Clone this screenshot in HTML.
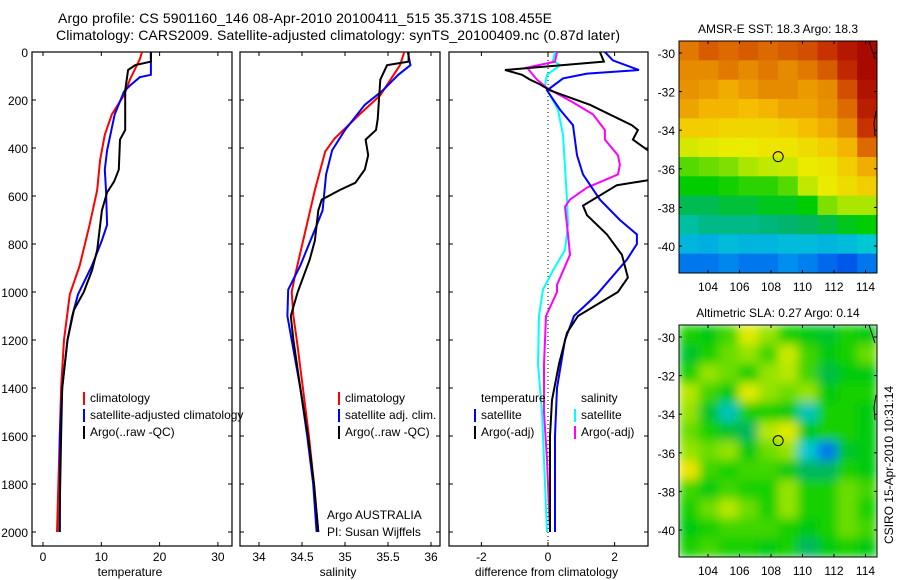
<!DOCTYPE html>
<html><head><meta charset="utf-8"><style>
body{margin:0;background:#fff;}
svg{display:block;font-family:"Liberation Sans",sans-serif;}
text{fill:#000;}
</style></head><body>
<svg id="chart" width="900" height="580" viewBox="0 0 900 580">
<defs>
<filter id="blur" x="0" y="0" width="1" height="1"><feGaussianBlur stdDeviation="5" edgeMode="duplicate"/></filter>
<clipPath id="cp1"><rect x="32" y="52" width="200" height="494"/></clipPath>
<clipPath id="cp2"><rect x="240" y="52" width="200" height="494"/></clipPath>
<clipPath id="cp3"><rect x="449" y="52" width="199" height="494"/></clipPath>
<clipPath id="cm1"><rect x="679" y="41" width="198" height="232"/></clipPath>
<clipPath id="cm2"><rect x="679" y="325" width="198" height="232"/></clipPath>
</defs>
<text x="58" y="23" font-size="14" textLength="494">Argo profile: CS 5901160_146 08-Apr-2010 20100411_515 35.371S 108.455E</text>
<text x="56" y="40" font-size="14" textLength="564">Climatology: CARS2009. Satellite-adjusted climatology: synTS_20100409.nc (0.87d later)</text>
<g id="g"></g>
</svg>
<script>
// ---- depth grid data ----
const tDepth=[0,40,55,75,160,325,365,490,540,585,660,825,910,1000,1075,1200,1400,1600,2000];
const tArgo=[18.5,18.5,15.8,14.6,14.1,14.1,13.2,13.0,12.2,11.0,10.1,9.3,8.4,7.0,5.3,4.2,3.3,3.1,2.8];
const tClimDepth=[0,30,115,180,260,345,450,575,720,890,1010,1200,1400,2000];
const tClim=[17,16.6,14.9,13.9,11.8,10.6,9.8,9.3,8.0,6.3,4.6,3.6,3.1,2.4];
const tSatDepth=[0,95,105,140,165,260,410,490,575,720,785,890,1010,1100,1200,1400,1600,2000];
const tSat=[18.5,18.5,16.6,14.9,13.9,12.3,11.0,10.6,10.8,11.0,10.1,8.4,6.0,5.0,4.2,3.3,2.9,2.9];

const sArgoDepth=[0,40,55,115,280,325,365,430,490,545,575,615,660,785,865,1000,1100,1200,1400,1600,1800,2000];
const sArgo=[35.74,35.74,35.49,35.41,35.38,35.36,35.24,35.27,35.23,35.12,34.94,34.73,34.69,34.65,34.59,34.45,34.37,34.40,34.48,34.57,34.64,34.69];
const sClimDepth=[0,55,180,260,360,415,575,760,930,1000,1100,1200,1400,1600,1800,2000];
const sClim=[35.69,35.64,35.41,35.17,34.88,34.77,34.65,34.53,34.42,34.38,34.40,34.44,34.51,34.58,34.64,34.69];
const sSatDepth=[0,55,95,160,220,325,410,510,660,740,890,990,1100,1200,1400,1600,1800,2000];
const sSat=[35.73,35.76,35.62,35.44,35.23,35.0,34.85,34.78,34.74,34.65,34.48,34.34,34.33,34.38,34.48,34.56,34.63,34.67];

const dTArgoDepth=[0,40,75,95,115,135,160,220,305,325,365,430,530,555,640,680,760,845,940,1000,1100,1170,1300,1450,1600,2000];
const dTArgo=[1.56,1.68,-1.29,-0.78,-0.54,-0.24,0.06,1.26,2.52,2.7,2.55,3.2,3.2,2.07,1.05,1.17,1.77,2.22,2.4,2.1,0.9,0.57,0.33,0.12,0.06,0.06];
const dTSatDepth=[0,35,75,90,110,160,240,305,430,510,615,700,760,800,865,1010,1100,1200,1400,1600,2000];
const dTSat=[1.71,1.95,2.73,1.17,0.45,-0.03,0.36,0.75,0.87,1.05,1.56,2.16,2.67,2.67,2.37,1.47,0.78,0.51,0.27,0.21,0.21];
const dSArgoDepth=[0,40,65,115,150,210,260,325,365,430,470,510,530,565,615,645,760,845,970,1000,1100,1300,1500,1700,2000];
const dSArgo=[0.27,0.21,-0.63,-0.33,-0.03,0.75,1.35,1.71,1.71,2.1,2.16,2.1,1.77,1.17,0.66,0.51,0.6,0.66,0.27,0.27,-0.06,-0.12,-0.12,-0.03,0.06];
const dSSatDepth=[0,35,55,95,140,180,240,345,615,720,825,910,990,1100,1300,1500,1700,2000];
const dSSat=[0.21,0.15,0.36,-0.03,-0.09,0.06,0.3,0.45,0.57,0.6,0.51,0.15,-0.15,-0.27,-0.3,-0.18,-0.12,-0.03];

const depthTicks=[0,200,400,600,800,1000,1200,1400,1600,1800,2000];
const tTicks=[0,10,20,30];
const sTicks=[34,34.5,35,35.5,36];
const dTicks=[-2,0,2];
const lonTicks=[104,106,108,110,112,114];
const latTicks=[-30,-32,-34,-36,-38,-40];

// SST map (colormap fraction), rows north->south, 10 cols
const sstGrid=[
[0.8,0.84,0.82,0.84,0.82,0.84,0.86,0.9,0.95,0.98],
[0.78,0.78,0.8,0.78,0.8,0.78,0.8,0.84,0.92,0.98],
[0.77,0.76,0.74,0.76,0.78,0.78,0.76,0.78,0.86,0.96],
[0.75,0.73,0.73,0.72,0.73,0.75,0.75,0.77,0.82,0.94],
[0.7,0.7,0.69,0.69,0.69,0.7,0.72,0.74,0.78,0.9],
[0.64,0.65,0.66,0.66,0.67,0.67,0.68,0.7,0.73,0.82],
[0.56,0.57,0.58,0.6,0.62,0.63,0.66,0.67,0.7,0.74],
[0.52,0.52,0.53,0.54,0.54,0.56,0.62,0.66,0.68,0.7],
[0.46,0.46,0.48,0.48,0.5,0.5,0.52,0.58,0.6,0.6],
[0.4,0.42,0.42,0.42,0.43,0.44,0.45,0.47,0.5,0.52],
[0.33,0.32,0.34,0.33,0.33,0.34,0.34,0.33,0.34,0.36],
[0.24,0.24,0.26,0.24,0.24,0.27,0.25,0.22,0.2,0.24]];
const slaGrid=[
[0.53,0.51,0.55,0.65,0.59,0.53,0.51,0.49,0.53,0.51],
[0.49,0.53,0.57,0.59,0.55,0.63,0.55,0.51,0.53,0.57],
[0.53,0.59,0.57,0.53,0.59,0.61,0.55,0.47,0.51,0.51],
[0.61,0.55,0.51,0.65,0.59,0.57,0.59,0.51,0.53,0.53],
[0.59,0.49,0.38,0.53,0.53,0.51,0.38,0.53,0.53,0.51],
[0.57,0.53,0.49,0.45,0.61,0.65,0.51,0.53,0.53,0.51],
[0.59,0.57,0.59,0.51,0.57,0.59,0.36,0.24,0.49,0.51],
[0.67,0.55,0.53,0.55,0.55,0.51,0.45,0.45,0.53,0.51],
[0.55,0.51,0.55,0.53,0.53,0.59,0.53,0.53,0.57,0.55],
[0.53,0.57,0.61,0.57,0.53,0.59,0.53,0.53,0.57,0.53],
[0.51,0.53,0.55,0.55,0.55,0.53,0.51,0.53,0.57,0.55],
[0.53,0.55,0.53,0.53,0.51,0.53,0.45,0.51,0.53,0.51]];

const NS='http://www.w3.org/2000/svg';
const G=document.getElementById('g');
function mk(tag,attrs,parent){const e=document.createElementNS(NS,tag);for(const k in attrs)e.setAttribute(k,attrs[k]);(parent||G).appendChild(e);return e;}
const yD=d=>52+d*0.24;
const panels=[
 {x0:32,x1:232,sx:v=>43+5.83*v,ticks:tTicks,lab:'temperature',cp:'cp1',name:'temperature'},
 {x0:240,x1:440,sx:v=>259+86*(v-34),ticks:sTicks,lab:'salinity',cp:'cp2',name:'salinity'},
 {x0:449,x1:648,sx:v=>548+33.3*v,ticks:dTicks,lab:'difference from climatology',cp:'cp3',name:'difference'}];
panels.forEach((p,i)=>{
 const fr=mk('rect',{x:p.x0,y:52,width:p.x1-p.x0,height:494,fill:'none',stroke:'#000','stroke-width':1.2});
 
 
 depthTicks.forEach(d=>{
  mk('line',{x1:p.x0,x2:p.x0+4,y1:yD(d),y2:yD(d),stroke:'#000'});
  mk('line',{x1:p.x1-4,x2:p.x1,y1:yD(d),y2:yD(d),stroke:'#000'});
  if(i===0){const t=mk('text',{x:28,y:yD(d)+5,'font-size':12,'text-anchor':'end'});t.textContent=d;
   
   }
 });
 p.ticks.forEach(v=>{
  const x=p.sx(v);
  mk('line',{x1:x,x2:x,y1:52,y2:56,stroke:'#000'});
  mk('line',{x1:x,x2:x,y1:542,y2:546,stroke:'#000'});
  const t=mk('text',{x:x,y:561,'font-size':12,'text-anchor':'middle'});t.textContent=v;
  
  
 });
 const t=mk('text',{x:(p.x0+p.x1)/2-2,y:576,'font-size':12,'text-anchor':'middle'});t.textContent=p.lab;
 
 
});
const z=mk('line',{x1:548,x2:548,y1:52,y2:546,stroke:'#000','stroke-dasharray':'1,3'});


function line(p,depths,vals,color,name,w){
 const pts=depths.map((d,i)=>p.sx(vals[i]).toFixed(1)+','+yD(d).toFixed(1)).join(' ');
 const e=mk('polyline',{points:pts,fill:'none',stroke:color,'stroke-width':w||2,'clip-path':'url(#'+p.cp+')'});
 
 
}
line(panels[0],tClimDepth,tClim,'#f00','temperature-climatology-line');
line(panels[0],tSatDepth,tSat,'#00f','temperature-satellite-line');
line(panels[0],tDepth,tArgo,'#000','temperature-argo-line');
line(panels[1],sClimDepth,sClim,'#f00','salinity-climatology-line');
line(panels[1],sSatDepth,sSat,'#00f','salinity-satellite-line');
line(panels[1],sArgoDepth,sArgo,'#000','salinity-argo-line');
line(panels[2],dSSatDepth,dSSat,'#0ff','salinity-satellite-diff-line');
line(panels[2],dSArgoDepth,dSArgo,'#f0f','salinity-argo-diff-line');
line(panels[2],dTSatDepth,dTSat,'#00f','temperature-satellite-diff-line');
line(panels[2],dTArgoDepth,dTArgo,'#000','temperature-argo-diff-line');
function leg(x,y,color,label,name){
 if(color){const b=mk('rect',{x:x,y:y-10,width:2,height:13,fill:color});
  
  }
 const t=mk('text',{x:x+7,y:y,'font-size':12});t.textContent=label;
 
 
}
leg(83,402,'#f00','climatology','legend-climatology');
leg(83,419,'#00f','satellite-adjusted climatology','legend-satellite-adjusted');
leg(83,436,'#000','Argo(..raw -QC)','legend-argo');
leg(338,402,'#f00','climatology','legend-sal-climatology');
leg(338,419,'#00f','satellite adj. clim.','legend-sal-satellite');
leg(338,436,'#000','Argo(..raw -QC)','legend-sal-argo');
leg(474,402,null,'temperature','legend-temperature-heading');
leg(474,419,'#00f','satellite','legend-temp-satellite');
leg(474,436,'#000','Argo(-adj)','legend-temp-argo');
leg(574,402,null,'salinity','legend-salinity-heading');
leg(574,419,'#0ff','satellite','legend-sal-sat-diff');
leg(574,436,'#f0f','Argo(-adj)','legend-sal-argo-diff');
leg(320,519,null,'Argo AUSTRALIA','argo-australia-label');
leg(320,536,null,'PI: Susan Wijffels','pi-label');

const STOPS=[[0,0,0,130],[0.15,0,50,230],[0.28,0,150,240],[0.36,0,200,210],[0.44,0,180,110],[0.52,0,205,0],[0.6,170,230,0],[0.66,235,235,0],[0.72,245,190,0],[0.8,225,120,0],[0.9,200,50,0],[1,160,0,0]];
function cmap(v){v=Math.max(0,Math.min(1,v));
 for(let i=1;i<STOPS.length;i++){const a=STOPS[i-1],b=STOPS[i];
  if(v<=b[0]){const f=(v-a[0])/(b[0]-a[0]);
   return 'rgb('+[1,2,3].map(k=>Math.round(a[k]+f*(b[k]-a[k]))).join(',')+')';}}
 return 'rgb(160,0,0)';}
function map(y0,y1,latY,grid,blur,cp,name,title){
 const lonX=l=>708+(l-104)*15.75;
 const x0=679,x1=877;
 const gg=mk('g',{'clip-path':'url(#'+cp+')'});
 
 
 const inner=mk('g',blur?{filter:'url(#blur)'}:{},gg);
 const rows=grid.length,cols=grid[0].length;
 const cw=(x1-x0)/cols,ch=(y1-y0)/rows;
 grid.forEach((row,r)=>row.forEach((v,c)=>{
  const e=mk('rect',{x:x0+c*cw,y:y0+r*ch,width:cw+0.6,height:ch+0.6,fill:cmap(v)},inner);
  
  
 }));
 const fr=mk('rect',{x:x0,y:y0,width:x1-x0,height:y1-y0,fill:'none',stroke:'#000'});
 
 
 lonTicks.forEach(l=>{const x=lonX(l);
  mk('line',{x1:x,x2:x,y1:y0,y2:y0+3,stroke:'#000'});mk('line',{x1:x,x2:x,y1:y1-3,y2:y1,stroke:'#000'});
  const t=mk('text',{x:x,y:y1+18,'font-size':12,'text-anchor':'middle'});t.textContent=l;
  
  });
 latTicks.forEach(l=>{const y=latY(l);
  mk('line',{x1:x0,x2:x0+3,y1:y,y2:y,stroke:'#000'});mk('line',{x1:x1-3,x2:x1,y1:y,y2:y,stroke:'#000'});
  const t=mk('text',{x:675,y:y+5,'font-size':12,'text-anchor':'end'});t.textContent=l;
  
  });
 const c=mk('circle',{cx:lonX(108.455),cy:latY(-35.371),r:5,fill:'none',stroke:'#000','stroke-width':1});
 
 
 const coast=mk('path',{d:'M'+(x1-8)+','+y0+' L'+(x1-2)+','+(y0+18)+' M'+(x1-1)+','+(y0+70)+' L'+(x1-3)+','+(y0+82)+' L'+(x1-2)+','+(y0+95),fill:'none',stroke:'#000'});
 
 
 const t=mk('text',{x:(x0+x1)/2,y:y0-8,'font-size':12,'text-anchor':'middle'});t.textContent=title;
 
 
}
map(41,273,l=>53+(-30-l)*19.3,sstGrid,false,'cm1','sst-map','AMSR-E SST: 18.3 Argo: 18.3');
map(325,557,l=>337+(-30-l)*19.3,slaGrid,true,'cm2','sla-map','Altimetric SLA: 0.27 Argo: 0.14');
const cs=mk('text',{x:0,y:0,'font-size':12,'text-anchor':'middle',transform:'translate(893,465) rotate(-90)'});
cs.textContent='CSIRO 15-Apr-2010 10:31:14';


</script>
</body></html>
